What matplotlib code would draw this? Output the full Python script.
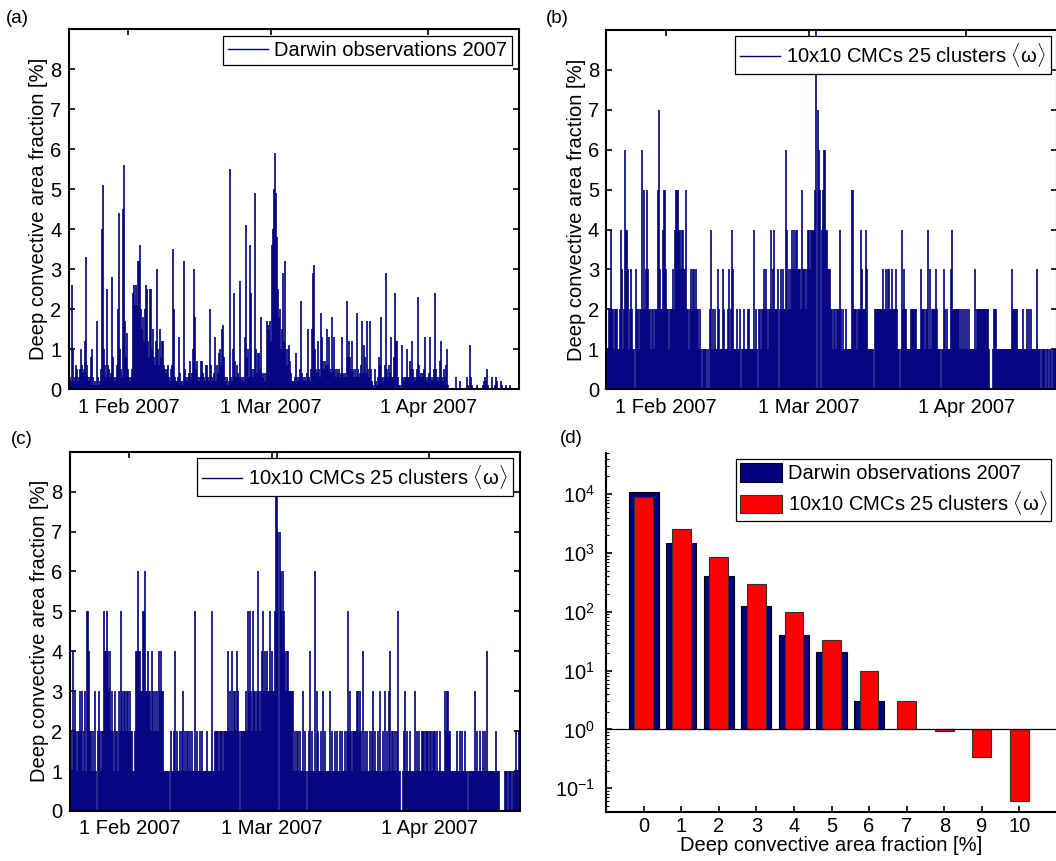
import numpy as np
import pandas as pd
import matplotlib
matplotlib.use("Agg")
import matplotlib.pyplot as plt
import matplotlib.dates as mdates
from matplotlib.lines import Line2D
from matplotlib.ticker import LogLocator, NullFormatter, FixedLocator

plt.rcParams['font.family'] = ['Liberation Sans', 'DejaVu Sans']
plt.rcParams['mathtext.fontset'] = 'custom'
plt.rcParams['mathtext.rm'] = 'Liberation Sans'
plt.rcParams['mathtext.it'] = 'Liberation Sans:italic'
plt.rcParams['mathtext.bf'] = 'Liberation Sans:bold'

# ---------------- data ----------------
T_START = "2007-01-20 04:30"
T_END = "2007-04-18 19:00"
SAMPLE_SECONDS = 17010          # spacing of the digitised samples

# (a) Darwin observations, peak value per sample, in tenths of a percent
darwin_tenths = """
4 3 2 26 10 2 3 6
5 2 3 5 10 6 4 5 12 33
6 3 2 3 8 10 3 1 2 1
17 3 1 2 5 40 51 10 6 3
25 6 5 3 4 28 8 3 2 3
6 20 44 10 5 3 45 56 17 8
14 5 3 2 3 5 24 26 21 26
21 32 32 36 20 15 18 12 20 26
25 12 8 25 25 10 15 8 6 12
30 10 6 15 8 12 12 6 5 4
5 6 3 2 5 6 35 20 3 2
2 3 13 4 2 1 2 32 5 3
2 3 4 7 3 4 10 30 18 5
7 3 2 3 7 7 4 3 2 6
6 3 2 20 6 3 2 4 13
2 6 4 9 10 6 15 16 8
3 2 3 1 2 55 3 2 10 24
7 3 6 4 3 27 3 2 3 2
13 41 8 10 3 36 24 5 3 5
49 10 4 9 9 5 18 4 3 4
2 4 17 16 15 17 12 36 40 50
59 49 38 25 18 20 10 15 29 12
32 10 6 10 11 7 4 2 2 2
3 9 3 2 3 5 22 4 3 2
3 2 4 15 3 2 5 15 29 31
10 5 4 12 5 3 19 13 7 5
7 6 15 6 13 5 4 18 5 13
5 3 5 4 5 3 4 13 4 3
4 3 22 8 12 8 5 12 5 3
5 3 19 5 3 4 6 17
4 11 8 4 17 5 3 17 5 2
1 0 5 2 1 3 8 6 18 3
2 3 6 29 5 3 6 4 13 3
3 8 24 12 12 3 1 1 0 11
3 2 3 3 10 3 3 7 5 12
5 3 2 3 5 23 6 3 4 3
4 5 13 3 2 3 4 13 3 2
3 5 24 5 3 2 3 7 12 3
2 5 3 6 10 1 0 0 0 0
0 0 0 3 0 0 0 2 0 0
0 0 0 0 3 1 0 11 3 1
0 0 0 0 1 0 0 0 0 0
1 2 3 2 5 1 0 0 0 3
0 0 1 3 2 0 0 0 2 1
0 0 0 1 0 0 0 1 0 0
0 0 0 0 0 0
"""

# (b) 10x10 CMCs 25 clusters <omega>, peak level per sample [%]
cmc_b_levels = """
1122422122 2112431264 4312321103 2212262523 5322122122
2573224553 2212223245 5544344335 2212323323 2212101111
0102412121 1321113211 1231243111 2112011211 1221111412
1022122323 2122423422 2302323226 4232343434 4333253332
3443444459 0765045664 4333221
2212224212 1121111155 2221222432 2243111111 0222222223
2232332232 2232110142 3221111222 2221111322 2122413122
2232111011 3212111342 2222221212 1212121111 1312222222
2222210001 2221111111 1111111132 2222111112 1112121211
1113111011 110110110111 101
"""

# (c) 10x10 CMCs 25 clusters <omega>, peak level per sample [%]
cmc_c_levels = """
1214232122 3231231554 2212131023 2122544543 4232132213
2532332332 3221124464 4335563343 3243232324 3433111111
0211241211 2123121221 2121151211 2121111211 1151122221
2221222242 3242332432 0222223253 5325332363 2345343433
5343358970 7656543443 3333121221 2113121012 4121161321
1213121111 3121121211 2121121252 3212222332 3214121211
2123121121 3112131213 4122121251 1001231211 2111131212
1122212221 2212221211 2111132332 2111111211 2121121101
1111131211 2112121411 1111112111 0000011101 1101112112
"""

# (d) histogram
hist_bins = [0, 1, 2, 3, 4, 5, 6, 7, 8, 9, 10]
darwin_counts = [10900, 1460, 405, 123, 40, 21, 3]
cmc_counts = [8800, 2570, 865, 300, 100, 33, 10, 3, 0.94, 0.34, 0.061]

label_obs = "Darwin observations 2007"
label_cmc = r"10x10 CMCs 25 clusters $\langle\mathrm{\omega}\rangle$"
ylabel_ts = "Deep convective area fraction [%]"
xlabel_hist = "Deep convective area fraction [%]"
date_ticks = ["2007-02-01", "2007-03-01", "2007-04-01"]
panel_tags = ["(a)", "(b)", "(c)", "(d)"]

# ---------------- parse ----------------
darwin = np.array(darwin_tenths.split(), dtype=float) / 10.0
cmc_b = np.array([int(c) for c in cmc_b_levels if c.isdigit()], dtype=float)
cmc_c = np.array([int(c) for c in cmc_c_levels if c.isdigit()], dtype=float)


def sample_times(n):
    t0 = mdates.date2num(pd.Timestamp(T_START).to_pydatetime())
    return t0 + (np.arange(n) + 0.5) * SAMPLE_SECONDS / 86400.0


NAVY = "#000080"
FS = 14.5
W, H = 1056, 861

fig = plt.figure(figsize=(W / 100, H / 100), dpi=100)


def px_axes(left, top, width, height):
    return fig.add_axes([left / W, 1 - (top + height) / H, width / W, height / H])


ax_a = px_axes(68.5, 29.3, 450, 360)
ax_b = px_axes(606, 29.8, 451, 359.5)
ax_c = px_axes(69.5, 451.7, 450, 359.3)
ax_d = px_axes(606, 453, 451, 358.7)

xmin = mdates.date2num(pd.Timestamp(T_START).to_pydatetime())
xmax = mdates.date2num(pd.Timestamp(T_END).to_pydatetime())
tick_nums = [mdates.date2num(pd.Timestamp(d).to_pydatetime()) for d in date_ticks]


def style_ts(ax, series, label):
    t = sample_times(len(series))
    ax.vlines(t, 0, series, colors=NAVY, linewidth=1.2)
    ax.set_xlim(xmin, xmax)
    ax.set_ylim(0, 9)
    ax.set_yticks(range(0, 9))
    ax.xaxis.set_major_locator(FixedLocator(tick_nums))
    ax.xaxis.set_major_formatter(mdates.DateFormatter('%-d %b %Y'))
    ax.tick_params(direction='in', top=True, right=True, length=4, width=1.2,
                   labelsize=FS, pad=5)
    ax.tick_params(axis='x', pad=6)
    for s in ax.spines.values():
        s.set_linewidth(1.5)
    ax.set_ylabel(ylabel_ts, fontsize=FS, labelpad=1.5)
    h = Line2D([0], [0], color=NAVY, lw=1.0)
    leg = ax.legend([h], [label], loc='upper right', fontsize=FS,
                    frameon=True, fancybox=False, borderpad=0.25,
                    handlelength=2.0, handletextpad=0.3, borderaxespad=0.32)
    leg.get_frame().set_edgecolor('black')
    leg.get_frame().set_linewidth(0.9)
    leg.get_frame().set_alpha(1)


style_ts(ax_a, darwin, label_obs)
style_ts(ax_b, cmc_b, label_cmc)
style_ts(ax_c, cmc_c, label_cmc)

# ---------------- (d) histogram ----------------
ax_d.set_yscale('log')
ax_d.bar(hist_bins[:len(darwin_counts)], np.array(darwin_counts) - 1, bottom=1,
         width=0.8, color=NAVY, edgecolor='black', linewidth=0.8,
         label=label_obs, zorder=2)
ax_d.bar(hist_bins, np.array(cmc_counts) - 1, bottom=1, width=0.5,
         color='#ff0000', edgecolor='#303030', linewidth=0.8,
         label=label_cmc, zorder=3)
ax_d.axhline(1, color='black', linewidth=0.9, zorder=4)
ax_d.set_xlim(-1, 11)
ax_d.set_ylim(0.04, 5e4)
ax_d.set_xticks(hist_bins)
ax_d.yaxis.set_major_locator(LogLocator(base=10, numticks=12))
ax_d.yaxis.set_minor_locator(LogLocator(base=10, subs=np.arange(2, 10), numticks=12))
ax_d.yaxis.set_minor_formatter(NullFormatter())
ax_d.spines['top'].set_visible(False)
ax_d.spines['right'].set_visible(False)
for s in ('left', 'bottom'):
    ax_d.spines[s].set_linewidth(1.5)
ax_d.tick_params(which='major', direction='in', length=4, width=1.2, labelsize=FS)
ax_d.tick_params(which='minor', direction='in', length=2, width=0.8)
ax_d.tick_params(axis='y', which='major', pad=8)
ax_d.tick_params(axis='x', which='major', pad=4)
ax_d.set_xlabel(xlabel_hist, fontsize=FS, labelpad=0)
leg = ax_d.legend(loc='upper left', bbox_to_anchor=(0.289, 0.982), fontsize=FS,
                  frameon=True, fancybox=False, borderpad=0.2, borderaxespad=0,
                  handlelength=2.05, handleheight=1.0, handletextpad=0.3,
                  labelspacing=0.3)
leg.get_frame().set_edgecolor('black')
leg.get_frame().set_linewidth(0.9)
leg.get_frame().set_alpha(1)

# panel tags
tag_pos = [(6, 18.3), (546, 18.3), (11, 440), (560, 438.3)]
for tag, (x, y) in zip(panel_tags, tag_pos):
    fig.text(x / W, 1 - y / H, tag, fontsize=13.5, ha='left', va='center')

fig.savefig("out.png", dpi=100)
